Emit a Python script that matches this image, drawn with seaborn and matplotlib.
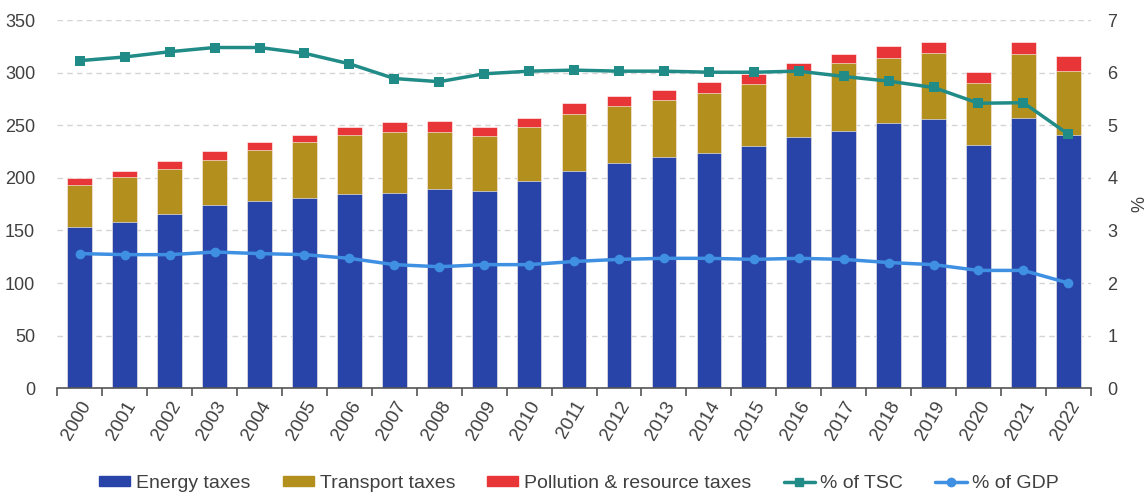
import numpy as np
import pandas as pd
import matplotlib
matplotlib.use('Agg')
import matplotlib.pyplot as plt
import seaborn as sns
from matplotlib.patches import Patch
from matplotlib.lines import Line2D

# Data (bn EUR and %)
years = [str(y) for y in range(2000, 2023)]
energy = [153, 158, 166, 174, 178, 181, 185, 186, 189, 188, 197, 207, 214, 220, 224, 230, 239, 245, 252, 256, 231, 257, 241]
transport = [40, 43, 42.5, 43, 49, 53, 56, 58, 55, 52, 51.5, 54, 54, 54, 57, 59, 62.5, 64, 62, 63, 59, 61, 61]
pollution = [7, 6, 7.5, 8.5, 7.5, 7, 7, 9, 10, 8, 8.5, 10, 10, 10, 10, 10, 8, 9, 11, 10, 11, 11, 14]
pct_tsc = [6.23, 6.30, 6.40, 6.48, 6.48, 6.37, 6.17, 5.89, 5.83, 5.98, 6.03, 6.05, 6.03, 6.03, 6.01, 6.01, 6.03, 5.93, 5.84, 5.72, 5.42, 5.43, 4.83]
pct_gdp = [2.56, 2.54, 2.54, 2.59, 2.56, 2.54, 2.47, 2.35, 2.31, 2.35, 2.35, 2.41, 2.45, 2.47, 2.47, 2.45, 2.47, 2.45, 2.39, 2.35, 2.24, 2.24, 2.00]

df = pd.DataFrame({'year': years, 'energy': energy, 'transport': transport,
                   'pollution': pollution, 'tsc': pct_tsc, 'gdp': pct_gdp})
df['lvl2'] = df['energy'] + df['transport']
df['lvl3'] = df['lvl2'] + df['pollution']
df['pos'] = np.arange(len(df))

c_energy = '#2944a8'
c_transport = '#b38f1e'
c_pollution = '#e83538'
c_tsc = '#218c87'
c_gdp = '#3f8fe2'
txt = '#404040'

sns.set_style('white')
plt.rcParams['font.family'] = ['Liberation Sans', 'DejaVu Sans']

fig, ax = plt.subplots(figsize=(11.47, 4.92), dpi=100)
fig.subplots_adjust(left=0.050, right=0.951, bottom=0.211, top=0.959)

# stacked bars: draw cumulative totals back to front
for col, c in [('lvl3', c_pollution), ('lvl2', c_transport), ('energy', c_energy)]:
    sns.barplot(data=df, x='year', y=col, color=c, width=0.55, ax=ax,
                edgecolor='white', linewidth=0.4, saturation=1, zorder=2)

ax.set_ylim(0, 350)
ax.set_xlim(-0.5, len(df) - 0.5)
ax.set_yticks(np.arange(0, 351, 50))
ax.yaxis.grid(True, color='#d4d4d4', linestyle=(0, (4, 3)), linewidth=1)
ax.set_axisbelow(True)
ax.set_xlabel('')
ax.set_ylabel('')
for s in ['top', 'left', 'right']:
    ax.spines[s].set_visible(False)
ax.spines['bottom'].set_color('#555555')
ax.spines['bottom'].set_linewidth(1.2)

# ticks between categories, labels at centres
ax.set_xticks(np.arange(len(df)))
ax.set_xticklabels(years, rotation=60, ha='right', rotation_mode='anchor')
ax.set_xticks(np.arange(-0.5, len(df)), minor=True)
ax.tick_params(axis='x', which='major', length=0, pad=7, labelsize=13.5, labelcolor=txt)
ax.tick_params(axis='x', which='minor', length=6, width=1.2, color='#555555', direction='out', bottom=True)
ax.tick_params(axis='y', length=0, pad=16, labelsize=13, labelcolor=txt)

# % lines on secondary axis
ax2 = ax.twinx()
sns.lineplot(data=df, x='pos', y='tsc', ax=ax2, color=c_tsc, linewidth=2.5,
             marker='s', markersize=6.5, markeredgewidth=0, zorder=3)
sns.lineplot(data=df, x='pos', y='gdp', ax=ax2, color=c_gdp, linewidth=2.5,
             marker='o', markersize=7, markeredgewidth=0, zorder=3)
ax2.set_ylim(0, 7)
ax2.set_xlim(-0.5, len(df) - 0.5)
ax2.set_yticks(np.arange(0, 8, 1))
ax2.set_xlabel('')
ax2.set_ylabel('%', fontsize=13, color=txt, labelpad=10)
ax2.tick_params(axis='y', length=0, pad=12, labelsize=13, labelcolor=txt)
for s in ['top', 'left', 'right', 'bottom']:
    ax2.spines[s].set_visible(False)
ax2.grid(False)

handles = [
    Patch(color=c_energy, label='Energy taxes'),
    Patch(color=c_transport, label='Transport taxes'),
    Patch(color=c_pollution, label='Pollution & resource taxes'),
    Line2D([], [], color=c_tsc, lw=2.5, marker='s', markersize=6, label='% of TSC'),
    Line2D([], [], color=c_gdp, lw=2.5, marker='o', markersize=6, label='% of GDP'),
]
fig.legend(handles=handles, loc='lower center', bbox_to_anchor=(0.505, -0.035), ncol=5,
           frameon=False, fontsize=14, handlelength=1.6, handleheight=0.45,
           columnspacing=1.65, handletextpad=0.3, labelcolor=txt)

fig.savefig('out.png', dpi=100)
